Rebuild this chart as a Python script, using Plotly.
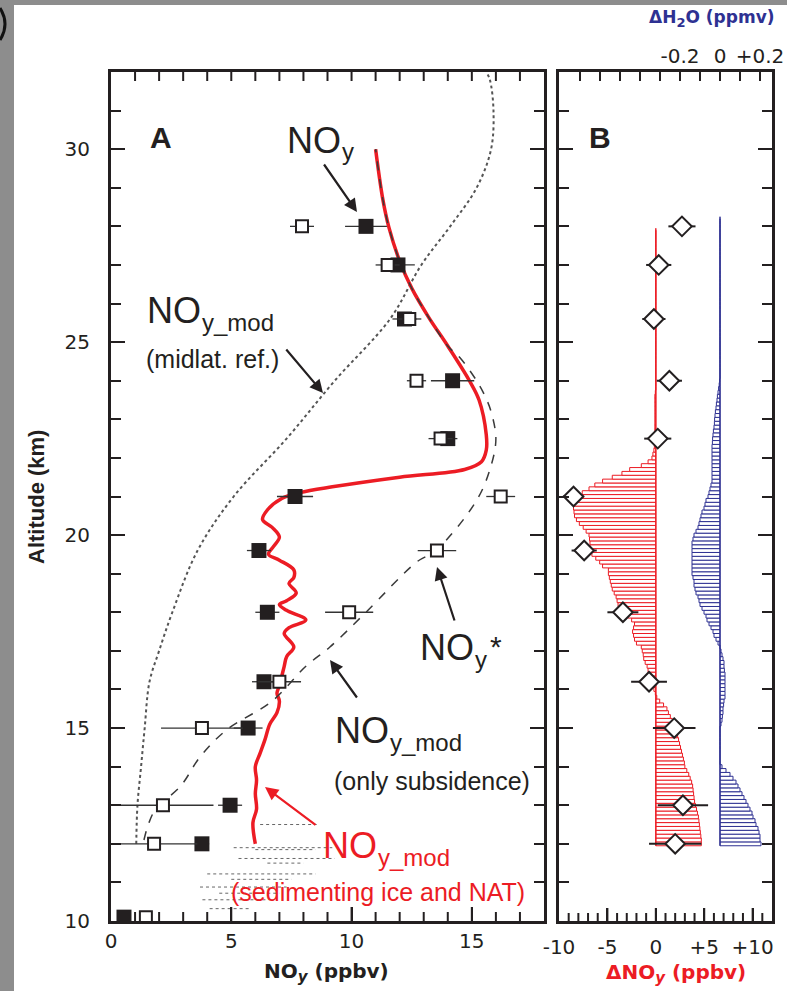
import plotly.graph_objects as go

W, H = 787, 991
FONT = "Liberation Sans, Arial, Helvetica, sans-serif"
WIDE = "DejaVu Sans, Verdana, sans-serif"
INK = "#231f20"
RED = "#ec1c24"
BLUE = "#2e3192"

# ---------------- Panel A data ----------------
ALT_OBS = [28.0, 27.0, 25.6, 24.0, 22.5, 21.0, 19.6, 18.0, 16.2, 15.0, 13.0, 12.0, 10.1]
NOY = [10.6, 11.93, 12.2, 14.2, 14.0, 7.65, 6.15, 6.5, 6.36, 5.7, 4.95, 3.78, 0.54]
NOY_ERR = [0.87, 0.7, 0.5, 0.9, 0.4, 0.75, 0.5, 0.5, 0.5, 0.6, 0.5, 0.3, 0.0]
NOY_STAR = [7.94, 11.5, 12.4, 12.7, 13.7, 16.2, 13.55, 9.9, 7.0, 3.78, 2.16, 1.79, 1.45]
NOY_STAR_ERR = [0.5, 0.5, 0.5, 0.4, 0.5, 0.6, 0.8, 1.0, 0.9, 1.7, 2.1, 1.8, 0.0]

MID_ALT = [12.0, 13.0, 14.0, 15.0, 16.2, 17.0, 18.0, 19.6, 21.0, 22.5, 24.0, 25.6, 27.0, 28.0, 29.0, 30.0, 31.0, 31.8, 32.0]
MID_NOY = [1.05, 1.1, 1.25, 1.4, 1.6, 2.0, 2.55, 3.6, 5.1, 7.3, 9.3, 11.6, 12.9, 14.1, 15.2, 15.8, 15.9, 15.75, 15.6]

SUB_ALT = [12.1, 12.5, 12.9, 13.5, 14.25, 14.95, 15.7, 16.6, 17.1, 18.0, 19.3, 19.6, 20.9, 21.8, 22.5, 23.2, 23.6, 24.0, 24.6, 24.9, 25.65, 26.4, 27.1, 27.98, 28.7, 30.0]
SUB_NOY = [1.37, 1.55, 1.86, 2.9, 3.7, 4.8, 6.7, 8.1, 9.1, 10.6, 12.7, 13.5, 15.2, 15.8, 16.0, 15.8, 15.55, 15.2, 14.5, 14.0, 13.2, 12.5, 12.0, 11.55, 11.3, 11.0]

SED_ALT = [12.0, 12.55, 12.9, 13.3, 13.65, 14.0, 14.35, 14.7, 15.1, 15.4, 15.7, 15.9, 16.1, 16.6, 16.85, 17.1, 17.45, 17.6, 17.8, 18.05, 18.2, 18.3, 18.5, 18.75, 18.9, 19.1, 19.35, 19.5, 19.7, 19.95, 20.2, 20.4, 20.65, 20.95, 21.1, 21.25, 21.5, 21.7, 21.9, 22.2, 22.6, 23.5, 24.0, 24.9, 25.65, 26.4, 27.1, 27.98, 28.7, 30.0]
SED_NOY = [6.0, 5.9, 6.05, 6.0, 6.05, 6.0, 6.2, 6.4, 6.6, 6.9, 7.0, 6.9, 7.0, 7.2, 7.3, 7.6, 7.2, 7.4, 8.1, 7.3, 7.0, 7.3, 7.7, 7.4, 7.6, 7.6, 7.0, 6.55, 6.75, 7.0, 6.7, 6.3, 6.5, 7.1, 7.85, 9.2, 12.0, 14.7, 15.4, 15.6, 15.6, 15.3, 14.9, 14.0, 13.2, 12.5, 12.0, 11.55, 11.3, 11.0]

# stippled cloud of model points near the bottom: (altitude, NOy start, NOy end)
SPECKLE = [(12.5, 6.2, 8.55), (11.9, 5.1, 9.2), (11.85, 6.0, 8.5), (11.62, 5.3, 9.3),
           (11.5, 6.5, 8.0), (11.22, 4.0, 8.5), (11.08, 5.0, 7.5), (10.88, 3.7, 7.3),
           (10.72, 4.5, 7.0), (10.55, 3.8, 6.5), (10.32, 4.1, 5.8)]

# ---------------- Panel B data ----------------
DNOY_OBS = [2.7, 0.3, -0.2, 1.4, 0.2, -8.5, -7.4, -3.4, -0.7, 1.9, 2.8, 2.0]
DNOY_OBS_ERR = [1.4, 1.3, 1.2, 1.3, 1.4, 1.1, 1.3, 1.6, 1.85, 2.2, 2.6, 2.7]
DALT_OBS = [28.0, 27.0, 25.6, 24.0, 22.5, 21.0, 19.6, 18.0, 16.2, 15.0, 13.0, 12.0]

PROFILE_START = 12.0   # km, profiles sampled every 0.1 km
PROFILE_STEP = 0.1
DNOY_MOD = [
    4.7, 4.7, 4.65, 4.6, 4.55, 4.5, 4.45, 4.4, 4.3, 4.2,
    4.1, 4.0, 3.95, 3.9, 3.85, 3.8, 3.7, 3.55, 3.4, 3.2,
    3.0, 2.95, 2.85, 2.75, 2.65, 2.55, 2.45, 2.35, 2.25, 2.2,
    2.0, 1.85, 1.7, 1.5, 1.3, 1.15, 0.8, 0.4, 0.1, -0.05,
    -0.2, -0.4, -0.55, -0.6, -0.7, -0.8, -0.9, -1.1, -1.25, -1.3,
    -1.4, -1.5, -2.0, -2.2, -2.3, -2.4, -2.3, -2.2, -2.5, -2.9,
    -3.2, -3.6, -3.9, -4.0, -4.1, -4.3, -4.5, -4.6, -4.7, -4.8,
    -4.9, -4.9, -5.5, -5.8, -6.2, -6.6, -6.8, -6.8, -6.8, -6.85,
    -6.9, -7.2, -7.5, -7.9, -8.2, -8.4, -8.45, -8.5, -8.5, -8.4,
    -8.1, -7.6, -6.9, -6.3, -5.5, -4.5, -3.5, -2.7, -1.5, -0.8,
    -0.4, -0.3, -0.2, -0.15, -0.1, -0.1, -0.1, -0.1, -0.1, -0.1,
    -0.1, -0.1, -0.1, -0.1, -0.1, -0.1, -0.1, -0.05, 0, 0,
    0, 0, 0, 0, 0, 0, 0, 0, 0, 0,
    0, 0, 0, 0, 0, 0, 0, 0, 0, 0,
    0, 0, 0, 0, 0, 0, 0, 0, 0, 0,
    0, 0, 0, 0, 0, 0, 0, 0, 0, 0,
]
DH2O_MOD = [
    0.205, 0.2, 0.2, 0.195, 0.19, 0.18, 0.175, 0.165, 0.16, 0.15,
    0.14, 0.13, 0.12, 0.11, 0.1, 0.09, 0.08, 0.065, 0.05, 0.03,
    0.01, 0, 0, 0, 0, 0, 0, 0, 0, 0,
    0, 0.005, 0.01, 0.012, 0.015, 0.015, 0.018, 0.02, 0.025, 0.025,
    0.025, 0.025, 0.025, 0.025, 0.025, 0.022, 0.02, 0.02, 0.015, 0.01,
    0.005, 0, -0.01, -0.02, -0.03, -0.035, -0.045, -0.055, -0.065, -0.07,
    -0.08, -0.09, -0.1, -0.105, -0.11, -0.12, -0.125, -0.13, -0.13, -0.135,
    -0.14, -0.14, -0.14, -0.14, -0.14, -0.14, -0.14, -0.14, -0.14, -0.135,
    -0.13, -0.12, -0.11, -0.105, -0.1, -0.095, -0.09, -0.08, -0.075, -0.07,
    -0.06, -0.055, -0.05, -0.045, -0.04, -0.04, -0.04, -0.04, -0.04, -0.04,
    -0.04, -0.04, -0.04, -0.04, -0.038, -0.037, -0.035, -0.033, -0.03, -0.028,
    -0.027, -0.025, -0.023, -0.02, -0.018, -0.015, -0.013, -0.01, -0.007, -0.004,
    -0.002, 0, 0, 0, 0, 0, 0, 0, 0, 0,
    0, 0, 0, 0, 0, 0, 0, 0, 0, 0,
    0, 0, 0, 0, 0, 0, 0, 0, 0, 0,
    0, 0, 0, 0, 0, 0, 0, 0, 0, 0,
    0, 0, 0,
]
ALT_DNOY = [round(PROFILE_START + PROFILE_STEP * i, 1) for i in range(len(DNOY_MOD))]
ALT_DH2O = [round(PROFILE_START + PROFILE_STEP * i, 1) for i in range(len(DH2O_MOD))]

# ---------------- axes ----------------
ALT_RANGE = [10, 32]
A_RANGE = [0, 18]
B_RANGE = [-10, 12]
H2O_RANGE = [-0.805, 0.26]
A_XTICKS = [0, 5, 10, 15]
A_XMINOR = list(range(1, 18))
B_XTICKS = [-10, -5, 0, 5, 10]
B_XTICKTEXT = ["-10", "-5", "0", "+5", "+10"]
B_XMINOR = list(range(-9, 12))
H2O_TICKS = [-0.2, 0, 0.2]
H2O_TICKTEXT = ["-0.2", "0", "+0.2"]
H2O_MINOR = [round(-0.7 + 0.1 * i, 1) for i in range(10)]
ALT_TICKS = [10, 15, 20, 25, 30]

PLOT_TOP, PLOT_BOTTOM = 72, 921   # pixel rows of the frame
PLOT_H = PLOT_BOTTOM - PLOT_TOP


def px(x):
    return x / W


def py(y):
    return 1 - y / H


fig = go.Figure()

# ---- Panel A ----
fig.add_trace(go.Scatter(x=MID_NOY, y=MID_ALT, mode="lines", line_shape="spline",
                         line=dict(color="#555", width=2, dash="dot"), xaxis="x", yaxis="y"))
for alt, x0, x1 in SPECKLE:
    fig.add_trace(go.Scatter(x=[x0, x1], y=[alt, alt], mode="lines",
                             line=dict(color="rgba(0,0,0,0.6)", width=1, dash="dot"),
                             xaxis="x", yaxis="y"))
fig.add_trace(go.Scatter(x=SED_NOY, y=SED_ALT, mode="lines", line_shape="spline",
                         line=dict(color=RED, width=3.5), xaxis="x", yaxis="y"))
fig.add_trace(go.Scatter(x=SUB_NOY, y=SUB_ALT, mode="lines", line_shape="spline",
                         line=dict(color="#3a3a3a", width=1.5, dash="dash"), xaxis="x", yaxis="y"))
fig.add_trace(go.Scatter(x=NOY, y=ALT_OBS, mode="markers",
                         marker=dict(symbol="square", size=15, color=INK),
                         error_x=dict(type="data", array=NOY_ERR, color="#333", thickness=1.3, width=0),
                         xaxis="x", yaxis="y"))
fig.add_trace(go.Scatter(x=NOY_STAR, y=ALT_OBS, mode="markers",
                         marker=dict(symbol="square", size=12, color="white", line=dict(color=INK, width=2)),
                         error_x=dict(type="data", array=NOY_STAR_ERR, color="#333", thickness=1.3, width=0),
                         xaxis="x", yaxis="y"))

# ---- Panel B ----
fig.add_trace(go.Bar(x=DNOY_MOD, y=ALT_DNOY, orientation="h", width=PROFILE_STEP,
                     marker=dict(color="white", line=dict(color=RED, width=1)),
                     xaxis="x2", yaxis="y2"))
fig.add_trace(go.Scatter(x=[0, 0], y=[ALT_DNOY[0] - PROFILE_STEP / 2, ALT_DNOY[-1]], mode="lines",
                         line=dict(color=RED, width=1.3), xaxis="x2", yaxis="y2"))
fig.add_trace(go.Scatter(x=DNOY_OBS, y=DALT_OBS, mode="markers",
                         marker=dict(symbol="diamond", size=15, color="white", line=dict(color=INK, width=2)),
                         error_x=dict(type="data", array=DNOY_OBS_ERR, color=INK, thickness=2, width=0),
                         xaxis="x2", yaxis="y2"))
fig.add_trace(go.Bar(x=DH2O_MOD, y=ALT_DH2O, orientation="h", width=PROFILE_STEP,
                     marker=dict(color="white", line=dict(color=BLUE, width=1)),
                     xaxis="x3", yaxis="y2"))
fig.add_trace(go.Scatter(x=[0, 0], y=[ALT_DH2O[0] - PROFILE_STEP / 2, ALT_DH2O[-1]], mode="lines",
                         line=dict(color=BLUE, width=1.3), xaxis="x3", yaxis="y2"))

tickfont = dict(family=WIDE, size=20, color=INK)
common = dict(showgrid=False, zeroline=False, showline=True, linecolor=INK, linewidth=3,
              ticks="inside", tickcolor=INK, tickwidth=2, tickfont=tickfont, automargin=False)
minor_y = dict(dtick=1, ticks="inside", ticklen=10, tickwidth=2, tickcolor=INK)

ydom = [(H - PLOT_BOTTOM) / H, (H - PLOT_TOP) / H]
fig.update_layout(
    template="none",
    width=W, height=H, margin=dict(l=0, r=0, t=0, b=0, pad=0, autoexpand=False),
    paper_bgcolor="white", plot_bgcolor="white", showlegend=False, barmode="overlay",
    xaxis=dict(domain=[px(111), px(544)], range=A_RANGE, tickvals=A_XTICKS, ticklen=14,
               mirror=True, anchor="y", **common),
    yaxis=dict(domain=ydom, range=ALT_RANGE, tickvals=ALT_TICKS, ticklen=14,
               minor=minor_y, mirror="ticks", anchor="x", ticklabelstandoff=14, **common),
    xaxis2=dict(domain=[px(559), px(772)], range=B_RANGE, tickvals=B_XTICKS, ticktext=B_XTICKTEXT,
                ticklen=13, mirror=True, anchor="y2", ticklabelstandoff=6, **common),
    yaxis2=dict(domain=ydom, range=ALT_RANGE, tickvals=ALT_TICKS, ticklen=14, showticklabels=False,
                minor=minor_y, mirror="ticks", anchor="x2", **common),
    xaxis3=dict(overlaying="x2", side="top", anchor="y2", range=H2O_RANGE,
                tickvals=H2O_TICKS, ticktext=H2O_TICKTEXT, ticks="", showline=False,
                showgrid=False, zeroline=False, tickfont=tickfont, ticklabelstandoff=4,
                automargin=False),
)

# inside tick marks along the horizontal frame edges, placed on the axis scales
shapes = []


def edge_tick(xref, yref, v, length, top):
    frac = length / PLOT_H
    y0, y1 = (1 - frac, 1) if top else (0, frac)
    shapes.append(dict(type="line", xref=xref, yref=yref, x0=v, x1=v, y0=y0, y1=y1,
                       line=dict(color=INK, width=2), layer="above"))


for v in A_XMINOR:
    edge_tick("x", "y domain", v, 14 if v in A_XTICKS else 9, top=False)
    edge_tick("x", "y domain", v, 9, top=True)
for v in B_XMINOR:
    edge_tick("x2", "y2 domain", v, 13 if v in B_XTICKS else 8, top=False)
for v in H2O_MINOR:
    edge_tick("x3", "y2 domain", v, 9, top=True)

# grey slide background strips at the left and top edges
shapes += [
    dict(type="rect", xref="paper", yref="paper", x0=0, x1=px(14), y0=0, y1=1,
         fillcolor="#8d8d8d", line=dict(width=0), layer="below"),
    dict(type="rect", xref="paper", yref="paper", x0=0, x1=1, y0=py(5), y1=1,
         fillcolor="#8d8d8d", line=dict(width=0), layer="below"),
    dict(type="path", xref="paper", yref="paper",
         path=f"M {px(0)},{py(8)} Q {px(10)},{py(24)} {px(0)},{py(40)}",
         line=dict(color="#111", width=3)),
]

ann = []


def text(x, y, s, size, color=INK, xanchor="left", yanchor="middle", angle=0, family=FONT):
    ann.append(dict(x=px(x), y=py(y), xref="paper", yref="paper", text=s, showarrow=False,
                    xanchor=xanchor, yanchor=yanchor, textangle=angle,
                    font=dict(family=family, size=size, color=color)))


def arrow(x0, y0, x1, y1, color=INK):
    ann.append(dict(x=px(x1), y=py(y1), ax=x0 - x1, ay=y0 - y1, xref="paper", yref="paper",
                    axref="pixel", ayref="pixel", text="", showarrow=True, arrowhead=2,
                    arrowsize=1.2, arrowwidth=2.2, arrowcolor=color))


def label(x, y, subtext, color=INK, star=False):
    """'NO' with a smaller lowered subscript, left edge x and cap centre y (pixels)."""
    text(x, y, "NO", 36, color=color)
    text(x + 55, y + 12, subtext, 24, color=color)
    if star:
        text(x + 55 + 15, y - 1, "*", 30, color=color)


def sub(s, size=25):
    return f'<sub><span style="font-size:{size}px">{s}</span></sub>'


text(161, 138, "<b>A</b>", 30, xanchor="center")
text(600, 138, "<b>B</b>", 30, xanchor="center")
label(285, 140, "y")
arrow(323, 163, 357, 212)
label(145, 310, "y_mod")
text(144, 359, "(midlat. ref.)", 25)
arrow(285, 348, 323, 393)
label(418, 647, "y", star=True)
arrow(455, 622, 437, 567)
label(333, 730, "y_mod")
text(332, 781, "(only subsidence)", 25)
arrow(358, 699, 330, 660)
label(321, 845, "y_mod", color=RED)
text(229, 892, "(sedimenting ice and NAT)", 25, color=RED)
arrow(317, 826, 265, 787, color=RED)

text(36, 497, "<b>Altitude (km)</b>", 22, xanchor="center", angle=-90,
     family="Liberation Sans Narrow, Arial Narrow, sans-serif")
text(326, 972, "<b>NO" + sub("<i>y</i>", 15) + " (ppbv)</b>", 20, xanchor="center", family=WIDE)
text(676, 973, "<b>ΔNO" + sub("<i>y</i>", 15) + " (ppbv)</b>", 20, color=RED, xanchor="center", family=WIDE)
text(711, 18, "<b>ΔH" + sub("2", 13) + "O (ppmv)</b>", 17, color=BLUE, xanchor="center", family=WIDE)

fig.update_layout(annotations=ann, shapes=shapes)

fig.write_html("out.html")
